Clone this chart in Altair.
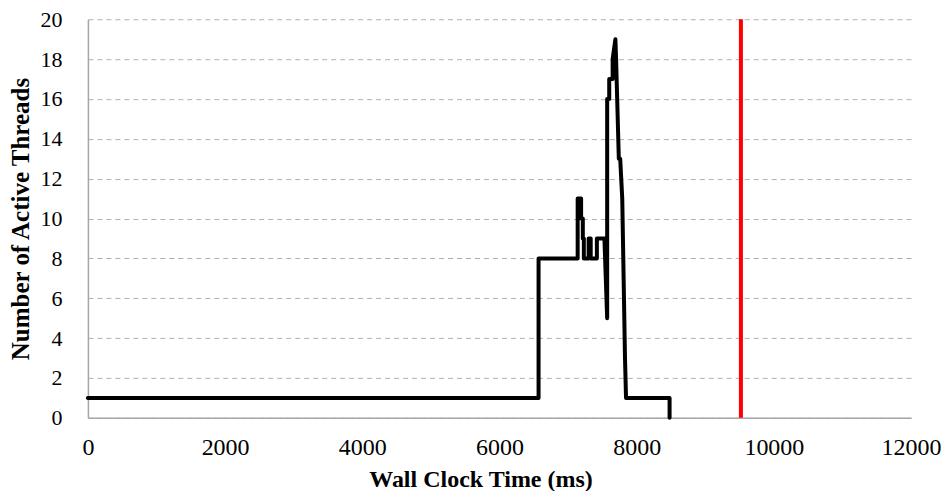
import altair as alt
import pandas as pd

times = [0, 6570, 6570, 7140, 7140, 7190, 7190, 7215, 7215, 7230, 7230, 7300, 7300, 7330, 7330,
         7420, 7420, 7530, 7570, 7570, 7600, 7600, 7650, 7650, 7690, 7700, 7740, 7760, 7790,
         7830, 7845, 8480, 8480]
threads = [1, 1, 8, 8, 11, 11, 10, 10, 9, 9, 8, 8, 9, 9, 8,
           8, 9, 9, 5, 16, 16, 17, 17, 18, 19, 18, 13, 13, 11,
           3, 1, 1, 0]
deadline = [9520]

x_ticks = [0, 2000, 4000, 6000, 8000, 10000, 12000]
y_ticks = [0, 2, 4, 6, 8, 10, 12, 14, 16, 18, 20]

df = pd.DataFrame({"t": times, "n": threads, "i": list(range(len(times)))})
df_red = pd.DataFrame({"t": deadline})

FONT = "Liberation Serif"

x_enc = alt.X("t:Q", scale=alt.Scale(domain=[0, 12000], nice=False),
              axis=alt.Axis(title="Wall Clock Time (ms)", values=x_ticks, grid=False,
                            ticks=False, labelPadding=18, titlePadding=8, titleX=393,
                            labelFlush=False, labelOverlap=False,
                            domainColor="#a6a6a6", domainWidth=1.5,
                            labelFont=FONT, labelFontSize=24, labelColor="black",
                            titleFont=FONT, titleFontSize=24, titleFontWeight="bold",
                            titleColor="black", format="d"))
y_enc = alt.Y("n:Q", scale=alt.Scale(domain=[0, 20], nice=False),
              axis=alt.Axis(title="Number of Active Threads", values=y_ticks, grid=True,
                            gridDash=[5, 4], gridColor="#b0b0b0", gridWidth=1,
                            ticks=False, labelPadding=26, titlePadding=6,
                            labelFlush=False, labelOverlap=False,
                            domainColor="#a6a6a6", domainWidth=1.5,
                            labelFont=FONT, labelFontSize=22, labelColor="black",
                            titleFont=FONT, titleFontSize=25, titleFontWeight="bold",
                            titleColor="black"))

line = alt.Chart(df).mark_line(color="black", strokeWidth=4, strokeCap="round",
                               strokeJoin="round").encode(
    x=x_enc, y=y_enc, order="i:Q")

red = alt.Chart(df_red).mark_rule(color="#ff0000", strokeWidth=4).encode(
    x=alt.X("t:Q"))

chart = alt.layer(line, red).properties(
    width=824, height=399,
    autosize=alt.AutoSizeParams(type="none"),
    padding={"left": 80, "top": 11, "right": 30, "bottom": 73},
).configure_view(stroke=None)

chart.save("out.html", embed_options={"renderer": "svg", "actions": False})
